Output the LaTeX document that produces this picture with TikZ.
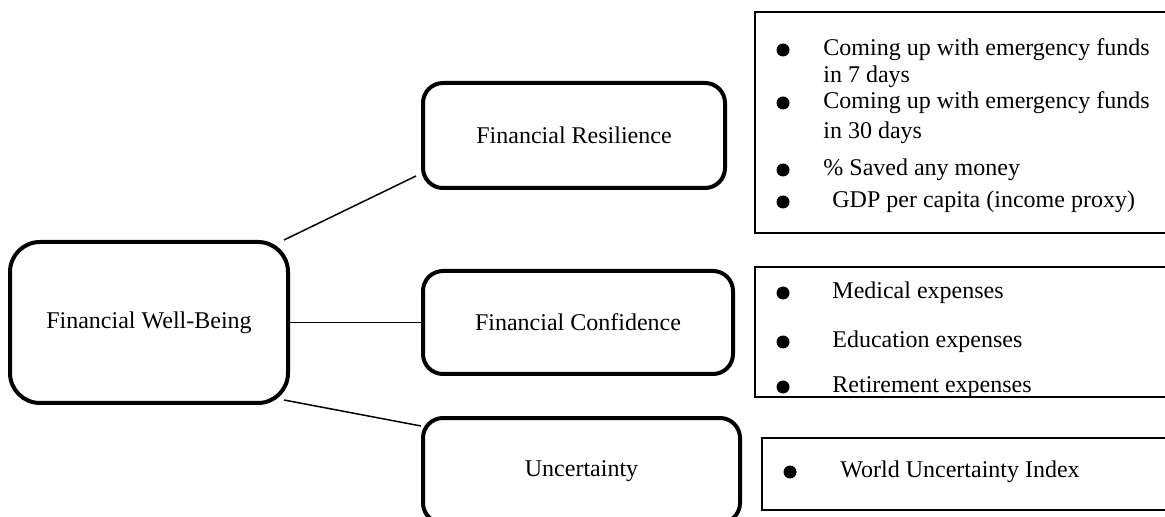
\documentclass[tikz,border=0pt]{standalone}
\usepackage{fontspec}
\setmainfont{Liberation Serif}
\tikzset{
  mainbox/.style={draw, line width=2pt, rounded corners=10pt, align=center, font=\fontsize{12}{14}\selectfont},
  listbox/.style={draw, line width=1pt, rectangle},
  bulletdot/.style={circle, fill=black, inner sep=0pt, minimum size=6.5pt},
  itemtext/.style={anchor=west, inner sep=0pt, font=\fontsize{12}{14}\selectfont},
  link/.style={line width=0.75pt},
}
\begin{document}
\begin{tikzpicture}[%
x=0.5pt, y=-0.5pt,
]
\useasboundingbox (0,0) rectangle (1165,517);
\clip (0,0) rectangle (1165,517);
%% box;
\node [mainbox, rounded corners=15pt, minimum width=139pt, minimum height=80.5pt] (fwb) at (149,322.5) {Financial Well-Being};
%% box;
\node [mainbox, minimum width=151pt, minimum height=52.5pt] (fr) at (574,135.5) {Financial Resilience};
%% box;
\node [mainbox, minimum width=155pt, minimum height=51.5pt] (fc) at (578,322.5) {Financial Confidence};
%% box;
\node [mainbox, minimum width=158.5pt, minimum height=52.5pt, text depth=2pt] (unc) at (581.5,470.5) {Uncertainty};
%% line;
\draw [link] ([xshift=-3pt]fwb.north east) -- ([xshift=-2.5pt,yshift=7pt]fr.south west);
%% line;
\draw [link] (fwb.east) -- (fc.west);
%% line;
\draw [link] ([xshift=-3pt,yshift=2.5pt]fwb.south east) -- ([yshift=-5pt]unc.north west);
%% list;
\node [listbox, minimum width=210pt, minimum height=110.5pt] (frlist) at (965,122.5) {};
\node [bulletdot] (b11) at (783,50) {};
\node [itemtext] (t11) at (823,50) {Coming up with emergency funds};
\node [itemtext] (t12) at (823,77) {in 7 days};
\node [bulletdot] (b12) at (783,103) {};
\node [itemtext] (t13) at (823,103) {Coming up with emergency funds};
\node [itemtext] (t14) at (823,133) {in 30 days};
\node [bulletdot] (b13) at (783,170) {};
\node [itemtext] (t15) at (823,170) {\% Saved any money};
\node [bulletdot] (b14) at (783,202) {};
\node [itemtext] (t16) at (832,202) {GDP per capita (income proxy)};
%% list;
\node [listbox, minimum width=210pt, minimum height=65pt] (fclist) at (965,332) {};
\begin{scope}
\clip (fclist.south west) rectangle (fclist.north east);
\node [bulletdot] (b21) at (783,293) {};
\node [itemtext] (t21) at (832,293) {Medical expenses};
\node [bulletdot] (b22) at (783,342) {};
\node [itemtext] (t22) at (832,342) {Education expenses};
\node [bulletdot] (b23) at (783,387) {};
\node [itemtext] (t23) at (832,387) {Retirement expenses};
\end{scope}
%% list;
\node [listbox, minimum width=206.5pt, minimum height=36pt] (unclist) at (968.5,474) {};
\node [bulletdot] (b31) at (790,472) {};
\node [itemtext] (t31) at (840,472) {World Uncertainty Index};
\end{tikzpicture}
\end{document}
